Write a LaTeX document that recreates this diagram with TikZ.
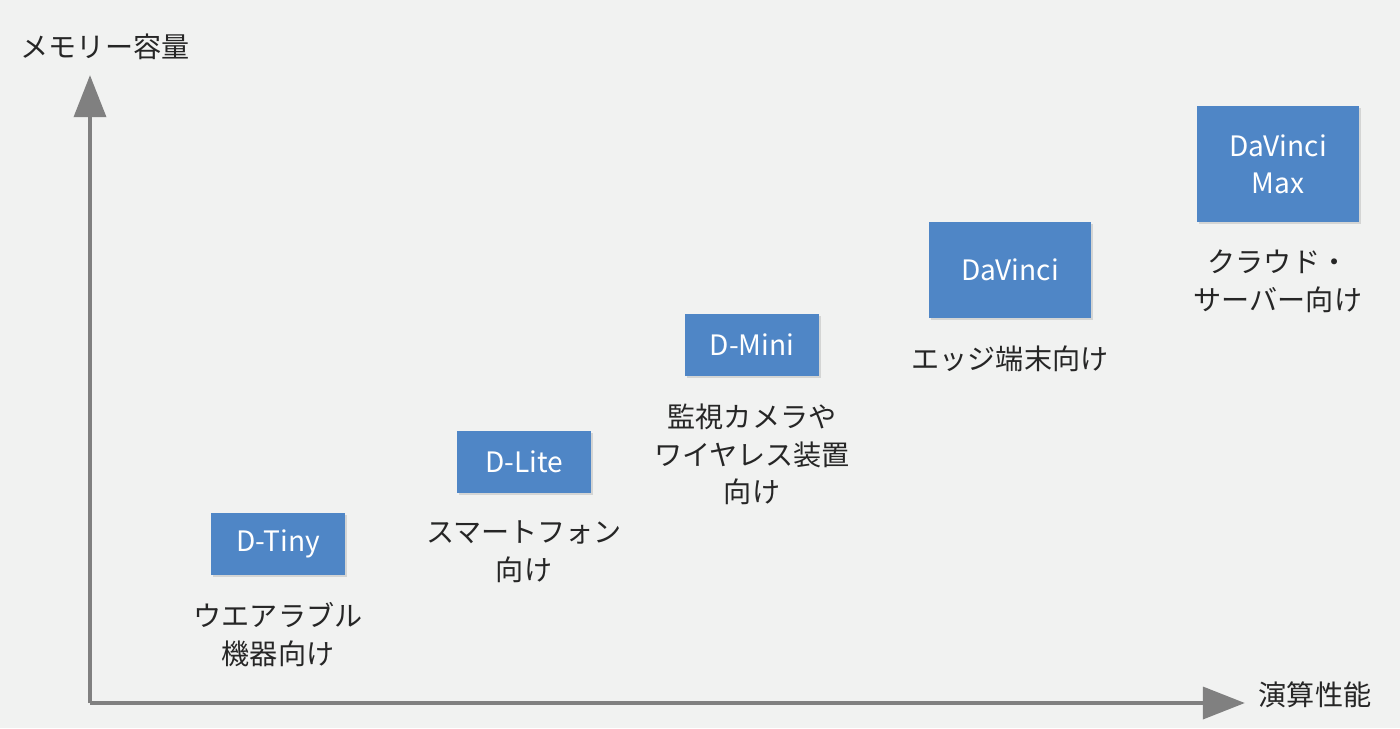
\documentclass[tikz,border=0pt]{standalone}
\usepackage{fontspec}
\setmainfont{Noto Sans CJK JP}
\usepackage{tikz}
\usetikzlibrary{arrows.meta, positioning, shadows}
\definecolor{bgcol}{HTML}{F1F2F1}
\definecolor{boxblue}{HTML}{4F86C6}
\definecolor{axisgray}{HTML}{808080}
\tikzset{
    axis/.style={-{Triangle[length=24pt,width=18pt]}, line width=2.8pt, axisgray},
    chip/.style={fill=boxblue, text=white, align=center, inner sep=0pt,
        font=\fontsize{16}{21}\selectfont, drop shadow={opacity=0.25, shadow xshift=1pt, shadow yshift=-1pt}},
    usage/.style={align=center, text=black!85, font=\fontsize{16}{21.5}\selectfont},
}
\begin{document}
\begin{tikzpicture}[x=0.02cm, y=-0.02cm]
    \fill[bgcol] (0,0) rectangle (1400,728);
    \useasboundingbox (0,0) rectangle (1400,728);
    % axes
    \coordinate (origin) at (90,703);
    \coordinate (ytip) at (90,75);
    \coordinate (xtip) at (1245,703);
    \draw[axis] (origin) -- (ytip);
    \draw[axis] (origin) -- (xtip);
    \node[usage] (ylabel) at (105,47) {メモリー容量};
    \node[usage] (xlabel) at (1315,695) {演算性能};
    % chips
    \node[chip, minimum width=134*0.02cm, minimum height=62*0.02cm] (tiny) at (278,544) {D-Tiny};
    \node[chip, minimum width=134*0.02cm, minimum height=62*0.02cm] (lite) at (524,462) {D-Lite};
    \node[chip, minimum width=134*0.02cm, minimum height=62*0.02cm] (mini) at (752,345) {D-Mini};
    \node[chip, minimum width=162*0.02cm, minimum height=96*0.02cm] (davinci) at (1010,270) {DaVinci};
    \node[chip, minimum width=162*0.02cm, minimum height=116*0.02cm] (max) at (1278,164) {DaVinci\\Max};
    % usage labels
    \node[usage, below=12pt of tiny] (tinyuse) {ウエアラブル\\機器向け};
    \node[usage, below=12pt of lite] (liteuse) {スマートフォン\\向け};
    \node[usage, below=12pt of mini] (miniuse) {監視カメラや\\ワイヤレス装置\\向け};
    \node[usage, below=12pt of davinci] (davinciuse) {エッジ端末向け};
    \node[usage, below=12pt of max] (maxuse) {クラウド・\\サーバー向け};
\end{tikzpicture}
\end{document}
